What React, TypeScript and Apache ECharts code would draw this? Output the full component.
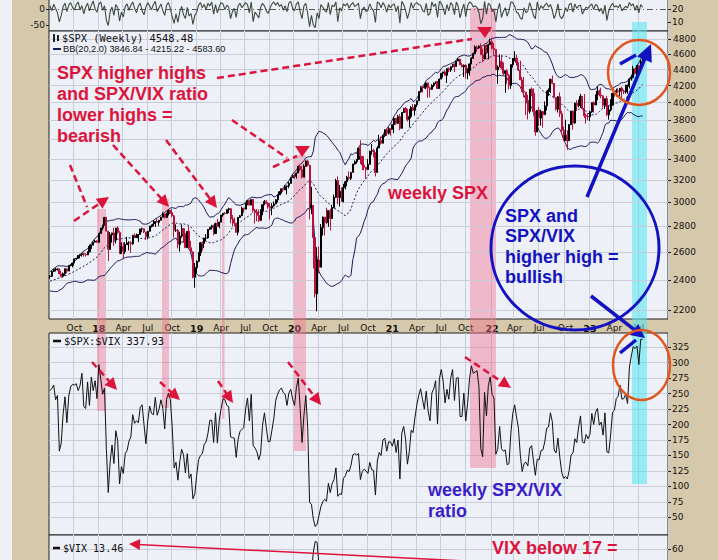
import React, { useEffect, useRef } from "react";
import * as echarts from "echarts";

// ---------- data ----------
const startYear = 2017, startMonth = 6, startDay = 7; // first weekly bar (Fri 2017-07-07)
const totalWeeks = 329; // category slots incl. empty space on the right
const firstOpen = 2423;

const warmupCloses = [2367, 2383, 2373, 2378, 2344, 2363, 2355, 2329, 2349, 2384, 2399, 2390, 2382, 2416, 2439, 2432, 2433, 2438, 2423];

const spxClose = [
  2425, 2459, 2472, 2472, 2476, 2441, 2425, 2443, 2477, 2461, 2500, 2502, 2519, 2549, 2553, 2575, 2581, 2588, 2582, 2579, 2602, 2642, 2652, 2675, 2683, 2674,
  2743, 2786, 2810, 2873, 2762, 2620, 2732, 2747, 2691, 2786, 2752, 2588, 2641, 2604, 2656, 2670, 2670, 2663, 2728, 2713, 2721, 2735, 2779, 2780, 2755, 2718, 2760, 2801, 2802, 2819, 2840, 2833, 2850, 2875, 2902, 2872, 2905, 2930, 2914, 2886, 2767, 2768, 2658, 2723, 2781, 2736, 2633, 2760, 2633, 2600, 2417, 2486,
  2532, 2596, 2671, 2665, 2707, 2708, 2776, 2793, 2804, 2743, 2822, 2800, 2834, 2893, 2907, 2905, 2940, 2946, 2881, 2860, 2826, 2752, 2873, 2887, 2950, 2942, 2990, 3014, 2977, 3026, 2932, 2919, 2889, 2847, 2926, 2979, 3007, 2992, 2962, 2952, 2970, 2986, 3023, 3067, 3093, 3120, 3110, 3141, 3146, 3169, 3221, 3240,
  3235, 3265, 3330, 3295, 3226, 3328, 3380, 3338, 2954, 2972, 2711, 2305, 2541, 2489, 2790, 2875, 2837, 2831, 2930, 2864, 2955, 3044, 3194, 3041, 3098, 3009, 3130, 3185, 3225, 3216, 3271, 3351, 3373, 3397, 3508, 3427, 3341, 3319, 3298, 3348, 3477, 3484, 3465, 3270, 3509, 3585, 3558, 3638, 3699, 3663, 3709, 3703, 3756,
  3824, 3768, 3841, 3714, 3887, 3934, 3907, 3811, 3842, 3943, 3913, 3975, 4020, 4129, 4185, 4180, 4181, 4233, 4174, 4156, 4204, 4230, 4247, 4166, 4281, 4352, 4370, 4327, 4412, 4395, 4437, 4468, 4442, 4509, 4535, 4459, 4433, 4455, 4357, 4391, 4471, 4545, 4605, 4697, 4683, 4698, 4595, 4538, 4712, 4620, 4726, 4766,
  4677, 4662, 4398, 4432, 4500, 4419, 4349, 4385, 4329, 4204, 4463, 4543, 4546, 4488, 4393, 4272, 4132, 4123, 4024, 3901, 4158, 4109, 3901, 3675, 3912, 3825, 3899, 3863, 3962, 4130, 4145, 4280, 4228, 4058, 3924, 4067, 3873, 3693, 3586, 3640, 3583, 3753, 3901, 3771, 3993, 3965, 4026, 4072, 3934, 3852, 3845, 3840,
  3895, 3999, 3973, 4071, 4136, 4090, 4079, 3970, 4046, 3862, 3917, 3971, 4109, 4105, 4138, 4133, 4169, 4136, 4124, 4192, 4205, 4282, 4299, 4409, 4348, 4450, 4399, 4505, 4548,
];

const spxHigh = [
  2433, 2463, 2478, 2484, 2480, 2480, 2465, 2451, 2480, 2475, 2500, 2508, 2520, 2552, 2557, 2575, 2582, 2590, 2597, 2590, 2605, 2657, 2656, 2680, 2694, 2692,
  2743, 2787, 2811, 2873, 2870, 2763, 2754, 2748, 2789, 2787, 2801, 2762, 2674, 2672, 2675, 2717, 2683, 2682, 2732, 2743, 2742, 2736, 2779, 2790, 2775, 2753, 2763, 2804, 2816, 2848, 2841, 2863, 2852, 2877, 2916, 2898, 2912, 2940, 2939, 2940, 2894, 2816, 2778, 2756, 2816, 2782, 2746, 2760, 2800, 2685, 2607, 2520,
  2538, 2598, 2675, 2681, 2709, 2738, 2776, 2793, 2813, 2812, 2830, 2860, 2836, 2894, 2910, 2918, 2940, 2954, 2932, 2892, 2872, 2829, 2874, 2893, 2964, 2955, 2996, 3014, 3018, 3027, 3029, 2945, 2943, 2939, 2941, 2985, 3021, 3021, 3002, 2993, 2993, 3008, 3028, 3067, 3098, 3121, 3127, 3154, 3147, 3183, 3226, 3248,
  3258, 3268, 3330, 3338, 3333, 3347, 3385, 3394, 3260, 3137, 2882, 2711, 2637, 2641, 2819, 2880, 2871, 2954, 2932, 2945, 2980, 3068, 3211, 3233, 3155, 3135, 3165, 3190, 3238, 3280, 3273, 3352, 3387, 3399, 3509, 3588, 3425, 3429, 3321, 3399, 3482, 3550, 3502, 3464, 3529, 3645, 3628, 3645, 3702, 3712, 3726, 3712, 3760,
  3827, 3823, 3861, 3870, 3890, 3937, 3950, 3929, 3928, 3960, 3983, 3975, 4021, 4130, 4191, 4195, 4218, 4238, 4237, 4187, 4218, 4238, 4249, 4257, 4287, 4355, 4372, 4393, 4415, 4429, 4442, 4468, 4480, 4513, 4545, 4537, 4486, 4465, 4466, 4416, 4475, 4559, 4608, 4718, 4714, 4718, 4744, 4672, 4713, 4731, 4740, 4808,
  4819, 4749, 4665, 4453, 4595, 4590, 4489, 4385, 4402, 4346, 4465, 4546, 4637, 4593, 4471, 4513, 4308, 4307, 4081, 4091, 4158, 4178, 4168, 3838, 3913, 3951, 3919, 3875, 4013, 4140, 4167, 4280, 4325, 4203, 4062, 4077, 4119, 3907, 3733, 3807, 3694, 3762, 3905, 3911, 4000, 4028, 4034, 4101, 4052, 4101, 3876, 3878,
  3907, 4003, 4015, 4095, 4195, 4153, 4176, 4082, 4048, 4078, 3965, 4039, 4110, 4133, 4163, 4170, 4170, 4186, 4154, 4212, 4212, 4291, 4323, 4448, 4412, 4458, 4456, 4528, 4578,
];

const spxLow = [
  2407, 2419, 2457, 2459, 2464, 2437, 2418, 2417, 2428, 2446, 2461, 2496, 2488, 2519, 2545, 2548, 2553, 2566, 2566, 2566, 2577, 2598, 2624, 2651, 2675, 2669,
  2674, 2743, 2769, 2808, 2759, 2533, 2617, 2675, 2647, 2665, 2741, 2585, 2588, 2553, 2586, 2656, 2612, 2594, 2655, 2707, 2707, 2676, 2735, 2752, 2746, 2692, 2698, 2760, 2790, 2802, 2795, 2829, 2802, 2848, 2875, 2864, 2872, 2889, 2904, 2874, 2710, 2755, 2628, 2603, 2709, 2670, 2631, 2633, 2621, 2584, 2410, 2346,
  2443, 2524, 2571, 2612, 2631, 2682, 2703, 2769, 2775, 2728, 2741, 2799, 2785, 2834, 2879, 2898, 2905, 2908, 2825, 2801, 2805, 2750, 2728, 2870, 2884, 2912, 2942, 2975, 2975, 2976, 2914, 2822, 2840, 2835, 2847, 2891, 2979, 2983, 2946, 2856, 2891, 2964, 2986, 3000, 3067, 3078, 3091, 3110, 3070, 3125, 3169, 3221,
  3212, 3214, 3265, 3281, 3214, 3226, 3328, 3328, 2856, 2901, 2479, 2281, 2192, 2447, 2489, 2727, 2727, 2816, 2797, 2767, 2910, 2955, 3038, 2984, 2965, 3005, 3000, 3115, 3142, 3201, 3200, 3271, 3345, 3355, 3397, 3350, 3293, 3292, 3209, 3298, 3348, 3441, 3415, 3233, 3270, 3509, 3543, 3558, 3622, 3633, 3647, 3636, 3703,
  3663, 3750, 3760, 3694, 3714, 3885, 3885, 3788, 3723, 3820, 3905, 3853, 3950, 4020, 4117, 4118, 4165, 4159, 4056, 4061, 4153, 4184, 4220, 4164, 4165, 4279, 4300, 4322, 4233, 4367, 4370, 4425, 4368, 4433, 4509, 4457, 4427, 4305, 4288, 4278, 4322, 4470, 4537, 4595, 4630, 4672, 4586, 4495, 4532, 4600, 4531, 4726,
  4662, 4582, 4395, 4223, 4432, 4401, 4327, 4115, 4223, 4157, 4162, 4424, 4506, 4450, 4381, 4267, 4124, 4063, 3859, 3810, 3875, 4074, 3900, 3636, 3675, 3739, 3743, 3721, 3859, 3911, 4079, 4112, 4218, 4057, 3907, 3887, 3838, 3647, 3584, 3585, 3491, 3583, 3753, 3699, 3764, 3906, 3947, 3938, 3918, 3827, 3765, 3800,
  3794, 3884, 3886, 3973, 4028, 4073, 4048, 3944, 3928, 3847, 3808, 3899, 3971, 4069, 4072, 4113, 4049, 4048, 4098, 4104, 4103, 4166, 4261, 4288, 4341, 4328, 4385, 4385, 4498,
];

const spxVixRatio = [
  255, 258, 264, 240, 247, 157, 170, 217, 245, 203, 246, 261, 265, 264, 266, 255, 263, 283, 229, 226, 269, 231, 277, 255, 271, 242,
  297, 274, 249, 259, 160, 90, 140, 167, 137, 190, 174, 104, 132, 121, 153, 158, 173, 180, 216, 202, 206, 203, 228, 232, 200, 169, 206, 230, 218, 216, 244, 215, 225, 240, 226, 193, 241, 251, 240, 195, 130, 139, 110, 140, 160, 151, 122, 153, 113, 120, 80, 88,
  118, 143, 150, 153, 168, 172, 186, 207, 207, 171, 219, 170, 207, 226, 242, 240, 231, 229, 180, 179, 178, 147, 176, 189, 192, 195, 225, 243, 206, 249, 166, 162, 156, 143, 154, 199, 219, 195, 172, 173, 191, 210, 239, 249, 256, 259, 252, 249, 231, 251, 257, 241,
  231, 260, 275, 226, 171, 215, 247, 195, 74, 71, 47, 35, 39, 53, 67, 75, 79, 76, 105, 90, 105, 111, 130, 84, 88, 87, 113, 117, 126, 124, 134, 151, 153, 151, 153, 111, 124, 128, 125, 121, 139, 127, 126, 86, 141, 155, 150, 175, 178, 157, 172, 172, 165,
  177, 155, 175, 112, 186, 197, 177, 136, 156, 191, 187, 211, 232, 247, 258, 241, 225, 254, 222, 206, 251, 258, 271, 201, 274, 289, 270, 235, 257, 241, 275, 289, 239, 275, 276, 213, 213, 251, 206, 234, 274, 295, 283, 285, 287, 262, 161, 148, 252, 214, 263, 277,
  249, 243, 152, 160, 197, 161, 157, 159, 135, 137, 187, 218, 232, 212, 194, 151, 124, 137, 139, 133, 162, 166, 141, 118, 144, 143, 158, 159, 172, 194, 196, 219, 205, 159, 154, 178, 147, 123, 113, 116, 112, 126, 151, 154, 177, 171, 196, 214, 172, 170, 184, 177,
  184, 218, 200, 220, 226, 199, 204, 183, 219, 156, 154, 183, 220, 223, 242, 246, 264, 241, 242, 249, 234, 293, 311, 326, 323, 327, 297, 338, 337.93,
];

const oscillator = [
  10, -5, 15, 2, -12, -40, -20, 8, 18, -8, 12, 20, 5, -3, 14, 22, -2, 10, -15, 6, 18, -6, 12, 25, 0, -10,
  15, 22, -4, 10, -35, -52, -8, 6, -20, 14, 4, -38, -10, -25, 8, 16, -4, 12, 22, 2, -12, 10, 18, -6, -18, 6, 20, 9, -2, 14, 24, -8, 4, 16, -5, -20, 12, 20, 2, -25, -45, -15, -42, -10, 8, -18, -30, 5, -22, -14, -48, -20,
  -10, 12, 20, 4, 14, -2, 18, 10, 22, -16, 14, -12, 8, 20, 16, -2, 12, 6, -30, -8, 2, -26, 10, 18, 4, 12, 20, 14, -12, 22, -40, -10, -18, -28, 6, 18, 10, -6, -14, 4, 16, 22, 12, 20, 8, 14, -4, 10, -8, 18, 24, 2,
  -6, 16, 22, -10, -30, 10, 18, -14, -55, -20, -50, -58, -12, -30, 14, 6, -4, -10, 20, -18, 12, 8, 22, -40, 4, -6, 16, 10, 18, 2, 14, 20, 8, 12, 18, -30, -2, 6, -8, -4, 16, 2, -6, -42, 22, 18, 4, 20, 10, -10, 14, 4, 12,
  16, -8, 10, -44, 24, 14, -4, -30, -10, 20, 2, 16, 20, 14, 12, -4, -10, 18, -20, -14, 22, 8, 16, -26, 24, 18, 2, -18, 14, -6, 20, 12, -18, 22, 8, -28, -4, 16, -24, 10, 22, 18, 6, 10, 4, -10, -46, -30, 24, -16, 18, 12,
  -8, -4, -40, -2, 18, -26, -8, 4, -22, -6, 22, 20, 8, -10, -14, -28, -32, 4, -12, -6, 20, 2, -20, -30, 22, -4, 10, 2, 12, 18, 6, 14, -4, -30, -12, 16, -22, -30, -20, 4, -8, 14, 18, -10, 16, 2, 10, 12, -16, -4, 6, 2,
  10, 16, -2, 14, 10, -8, 2, -16, 12, -36, -6, 8, 18, 6, 10, 4, 14, -6, 2, 8, 4, 20, 10, 16, -4, 12, -12, 14, 6,
];

const spxTicks = [2200, 2400, 2600, 2800, 3000, 3200, 3400, 3600, 3800, 4000, 4200, 4400, 4600, 4800];
const ratioTicks = [50, 75, 100, 125, 150, 175, 200, 225, 250, 275, 300, 325];
const vixTicks = [60];
const oscLeftTicks = [0, -50];
const oscRightTicks = [20, 10];
const monthNames = ["Jan", "Feb", "Mar", "Apr", "May", "Jun", "Jul", "Aug", "Sep", "Oct", "Nov", "Dec"];

// ---------- styling constants ----------
const TAN = "#d6c8aa";
const PANEL = "#eef0f8";
const GRIDC = "#c9ccd9";
const RED = "#dc143c";
const BLUE = "#1212c0";
const PURPLE = "#3a1fc8";
const ORANGE = "#e0561e";
const AXIS_FONT = "DejaVu Sans";

function arrow(x1: number, y1: number, x2: number, y2: number, color: string, dash: number[] | null, lw: number, hl: number, hw: number) {
  const dx = x2 - x1, dy = y2 - y1;
  const L = Math.hypot(dx, dy);
  const ux = dx / L, uy = dy / L;
  const bx = x2 - ux * hl, by = y2 - uy * hl;
  const px = -uy, py = ux;
  return [
    { type: "line", z: 100, shape: { x1, y1, x2: bx + ux * 2, y2: by + uy * 2 }, style: { stroke: color, lineWidth: lw, lineDash: dash || undefined } },
    { type: "polygon", z: 100, shape: { points: [[x2, y2], [bx + (px * hw) / 2, by + (py * hw) / 2], [bx - (px * hw) / 2, by - (py * hw) / 2]] }, style: { fill: color } },
  ];
}
function seg(x1: number, y1: number, x2: number, y2: number, color: string, dash: number[] | null, lw: number) {
  return { type: "line", z: 100, shape: { x1, y1, x2, y2 }, style: { stroke: color, lineWidth: lw, lineDash: dash || undefined } };
}

export default function App() {
  const ref = useRef<HTMLDivElement>(null);
  useEffect(() => {
    if (!ref.current) return;
    const chart = echarts.init(ref.current, null, { renderer: "svg" });

    const t0 = Date.UTC(startYear, startMonth, startDay);
    const weeks: string[] = [];
    for (let i = 0; i < totalWeeks; i++) weeks.push(new Date(t0 + i * 7 * 86400000).toISOString().slice(0, 10));
    const isQuarter = (idx: number, v: string) => {
      if (idx < 3 || idx > 320) return false;
      const m = +String(v).slice(5, 7) - 1;
      const d = +String(v).slice(8, 10);
      return m % 3 === 0 && d <= 7;
    };

    const ohlc = spxClose.map((c, i) => [i === 0 ? firstOpen : spxClose[i - 1], c, spxLow[i], spxHigh[i]]);
    const all = warmupCloses.concat(spxClose);
    const bbU: number[] = [], bbM: number[] = [], bbL: number[] = [];
    for (let i = 0; i < spxClose.length; i++) {
      const w = all.slice(i, i + 20);
      const mean = w.reduce((a, b) => a + b, 0) / w.length;
      const sd = Math.sqrt(w.reduce((a, b) => a + (b - mean) * (b - mean), 0) / w.length);
      bbM.push(mean); bbU.push(mean + 2 * sd); bbL.push(mean - 2 * sd);
    }
    const vix = spxClose.map((c, i) => c / spxVixRatio[i]);

    const xAxisFor = (gridIndex: number, labels: boolean) => ({
      type: "category", gridIndex, data: weeks, boundaryGap: true,
      axisLine: { show: false }, axisTick: { show: false },
      axisLabel: labels
        ? {
            show: true, interval: isQuarter, margin: 4, fontSize: 9, color: "#111", fontFamily: AXIS_FONT,
            formatter: (v: string) => {
              const m = +v.slice(5, 7) - 1;
              return m === 0 ? `{yr|${v.slice(2, 4)}}` : monthNames[m];
            },
            rich: { yr: { fontWeight: "bold", fontSize: 9.5, color: "#111", fontFamily: AXIS_FONT } },
          }
        : { show: false },
      splitLine: { show: true, interval: isQuarter, lineStyle: { color: GRIDC, width: 1 } },
    });
    const rightAxisCommon = (vals: number[]) => ({
      axisLine: { show: false },
      axisTick: { show: true, inside: false, length: 3, customValues: vals, lineStyle: { color: "#222" } },
      axisLabel: { show: true, customValues: vals, margin: 4, fontSize: 9, color: "#111", fontFamily: AXIS_FONT },
    });
    const gridCommon = { left: 49, width: 619, show: true, backgroundColor: PANEL, borderColor: "#222", borderWidth: 1, containLabel: false, outerBoundsMode: "none" };

    const pink = "rgba(240,108,140,0.42)";
    const bands = [
      [97, 209, 9, 202], [162, 199, 7, 209], [222, 213, 2.5, 206], [294, 155, 12, 296], [470, 8, 26, 460],
    ];
    const g: any[] = [];
    g.push({ type: "rect", z: 0, shape: { x: 0, y: 0, width: 12, height: 560 }, style: { fill: "#eef0f6" } });
    bands.forEach(([x, y, w, h]) => g.push({ type: "rect", z: 1, shape: { x, y, width: w, height: h }, style: { fill: pink } }));
    g.push({ type: "rect", z: 1, shape: { x: 632, y: 22, width: 15, height: 462 }, style: { fill: "rgba(80,232,240,0.55)" } });

    // legends
    const mono = '"DejaVu Sans Mono"';
    g.push({ type: "rect", z: 100, shape: { x: 53, y: 34, width: 2, height: 8 }, style: { fill: "#222" } });
    g.push({ type: "rect", z: 100, shape: { x: 57, y: 35, width: 2, height: 6 }, style: { fill: "#222" } });
    g.push({ type: "text", z: 100, x: 62, y: 38, style: { text: "$SPX (Weekly) 4548.48", fontFamily: mono, fontSize: 10.4, fill: "#111", verticalAlign: "middle" } });
    g.push(seg(53, 49, 61, 49, "#1c1c5a", null, 2));
    g.push({ type: "text", z: 100, x: 63, y: 49, style: { text: "BB(20,2.0) 3846.84 - 4215.22 - 4583.60", fontFamily: '"Liberation Sans"', fontSize: 9.2, fill: "#111", verticalAlign: "middle" } });
    g.push(seg(53, 341, 61, 341, "#111", null, 2.5));
    g.push({ type: "text", z: 100, x: 64, y: 341, style: { text: "$SPX:$VIX 337.93", fontFamily: mono, fontSize: 10.4, fill: "#111", verticalAlign: "middle" } });
    g.push(seg(53, 548, 60, 548, "#111", null, 2.5));
    g.push({ type: "text", z: 100, x: 63, y: 548, style: { text: "$VIX 13.46", fontFamily: mono, fontSize: 10, fill: "#111", verticalAlign: "middle" } });

    // annotation texts
    const bold = '"Liberation Sans", Arial, sans-serif';
    g.push({ type: "text", z: 100, x: 57, y: 62, style: { text: "SPX higher highs\nand SPX/VIX ratio\nlower highs =\nbearish", fontFamily: bold, fontWeight: "bold", fontSize: 18, lineHeight: 21, fill: RED } });
    g.push({ type: "text", z: 100, x: 388, y: 193, style: { text: "weekly SPX", fontFamily: bold, fontWeight: "bold", fontSize: 18, fill: RED, verticalAlign: "middle" } });
    g.push({ type: "text", z: 100, x: 505, y: 206, style: { text: "SPX and\nSPX/VIX\nhigher high =\nbullish", fontFamily: bold, fontWeight: "bold", fontSize: 18, lineHeight: 20.3, fill: BLUE } });
    g.push({ type: "text", z: 100, x: 428, y: 479, style: { text: "weekly SPX/VIX\nratio", fontFamily: bold, fontWeight: "bold", fontSize: 18, lineHeight: 21, fill: PURPLE } });
    g.push({ type: "text", z: 100, x: 492, y: 548, style: { text: "VIX below 17 =", fontFamily: bold, fontWeight: "bold", fontSize: 18, fill: RED, verticalAlign: "middle" } });

    // red dashed arrows
    const dash = [7, 4];
    g.push(seg(217, 78, 472, 39, RED, dash, 2.5));
    g.push({ type: "polygon", z: 100, shape: { points: [[477, 27], [492, 27], [485, 38]] }, style: { fill: RED } });
    g.push(seg(70, 165, 87, 207, RED, dash, 2.5));
    g.push(...arrow(74, 221, 109, 197, RED, dash, 2.5, 12, 12));
    g.push(...arrow(113, 145, 169, 207, RED, dash, 2.5, 12, 12));
    g.push(...arrow(166, 140, 217, 208, RED, dash, 2.5, 12, 12));
    g.push(seg(232, 120, 287, 158, RED, dash, 2.5));
    g.push(seg(273, 167, 297, 156, RED, dash, 2.5));
    g.push({ type: "polygon", z: 100, shape: { points: [[295, 146], [310, 146], [302, 157]] }, style: { fill: RED } });
    g.push(...arrow(92, 362, 117, 390, RED, dash, 2.5, 12, 12));
    g.push(...arrow(160, 382, 180, 400, RED, dash, 2.5, 12, 12));
    g.push(...arrow(218, 381, 233, 403, RED, dash, 2.5, 12, 12));
    g.push(...arrow(288, 362, 321, 405, RED, dash, 2.5, 12, 12));
    g.push(...arrow(465, 357, 511, 388, RED, dash, 2.5, 12, 12));
    g.push(...arrow(485, 562, 129, 544, RED, null, 1.5, 11, 11));

    // blue annotations
    g.push({ type: "ellipse", z: 100, shape: { cx: 575, cy: 248, rx: 84, ry: 82 }, style: { fill: "none", stroke: BLUE, lineWidth: 3 } });
    g.push(...arrow(587, 197, 651, 44, BLUE, null, 3.5, 17, 16));
    g.push(seg(620, 64, 636, 55, BLUE, null, 3.5));
    g.push(...arrow(591, 296, 645, 338, BLUE, null, 3.5, 14, 14));
    g.push(seg(620, 353, 636, 340, BLUE, null, 3.5));

    // orange ellipses
    g.push({ type: "ellipse", z: 100, shape: { cx: 639, cy: 72.5, rx: 31, ry: 32.5 }, style: { fill: "none", stroke: ORANGE, lineWidth: 2.5 } });
    g.push({ type: "ellipse", z: 100, shape: { cx: 641.5, cy: 365, rx: 28.5, ry: 35 }, style: { fill: "none", stroke: ORANGE, lineWidth: 2.5 } });

    const option: any = {
      animation: false,
      backgroundColor: TAN,
      grid: [
        { ...gridCommon, top: -10, height: 41 },
        { ...gridCommon, top: 31, height: 288 },
        { ...gridCommon, top: 333, height: 202 },
        { ...gridCommon, top: 535, height: 60 },
      ],
      xAxis: [xAxisFor(0, false), xAxisFor(1, true), xAxisFor(2, false), xAxisFor(3, false)],
      yAxis: [
        { type: "value", gridIndex: 0, position: "left", min: -68.75, max: 59.375, splitLine: { show: false }, ...rightAxisCommon(oscLeftTicks) },
        { type: "value", gridIndex: 0, position: "right", min: 3.077, max: 34.615, splitLine: { show: false }, ...rightAxisCommon(oscRightTicks) },
        {
          type: "log", logBase: 10, gridIndex: 1, position: "right", min: 2143.6, max: 4917,
          axisLine: { show: false }, axisTick: { show: true, length: 3, customValues: spxTicks, lineStyle: { color: "#222" } },
          axisLabel: { show: false }, splitLine: { show: false },
        },
        { type: "value", gridIndex: 2, position: "right", min: 21.4, max: 348.1, ...rightAxisCommon(ratioTicks), splitLine: { show: true, lineStyle: { color: GRIDC, width: 1 } } },
        { type: "value", gridIndex: 3, position: "right", min: 24.6, max: 70.8, ...rightAxisCommon(vixTicks), splitLine: { show: true, lineStyle: { color: GRIDC, width: 1 } } },
      ],
      series: [
        {
          type: "line", xAxisIndex: 0, yAxisIndex: 0, data: oscillator, symbol: "none", z: 3,
          lineStyle: { color: "#3d4a3d", width: 1.1 },
          markLine: { silent: true, symbol: "none", z: 2, label: { show: false }, lineStyle: { color: "#555", width: 1, type: [6, 3, 1, 3] }, data: [{ yAxis: 0 }] },
        },
        {
          type: "candlestick", xAxisIndex: 1, yAxisIndex: 2, data: ohlc, barWidth: 1.6, z: 4,
          itemStyle: { color: "#000", color0: "#b8123c", borderColor: "#000", borderColor0: "#b8123c", borderWidth: 1 },
        },
        { type: "line", xAxisIndex: 1, yAxisIndex: 2, data: bbU, symbol: "none", z: 3, lineStyle: { color: "#1c1c5a", width: 1 } },
        { type: "line", xAxisIndex: 1, yAxisIndex: 2, data: bbM, symbol: "none", z: 3, lineStyle: { color: "#1c1c5a", width: 1, type: [2, 2] } },
        {
          type: "line", xAxisIndex: 1, yAxisIndex: 2, data: bbL, symbol: "none", z: 3, lineStyle: { color: "#1c1c5a", width: 1 },
          markLine: {
            silent: true, symbol: "none", z: 1,
            lineStyle: { color: GRIDC, width: 1, type: "solid" },
            label: { show: true, position: "end", formatter: "{c}", distance: 5, fontSize: 9, color: "#111", fontFamily: AXIS_FONT },
            data: spxTicks.map((v) => ({ yAxis: v })),
          },
        },
        { type: "line", xAxisIndex: 2, yAxisIndex: 3, data: spxVixRatio, symbol: "none", z: 3, lineStyle: { color: "#111", width: 1 } },
        { type: "line", xAxisIndex: 3, yAxisIndex: 4, data: vix, symbol: "none", z: 3, lineStyle: { color: "#111", width: 1 } },
      ],
      graphic: { elements: g },
    };
    chart.setOption(option);
    return () => chart.dispose();
  }, []);
  return <div ref={ref} style={{ position: "fixed", left: 0, top: 0, width: 718, height: 560 }} />;
}
